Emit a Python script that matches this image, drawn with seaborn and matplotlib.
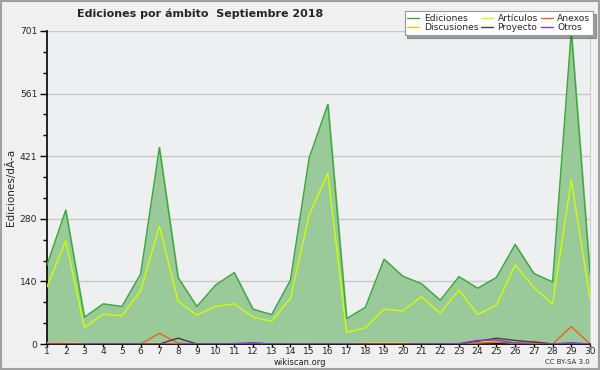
import matplotlib
matplotlib.use("Agg")
import matplotlib.pyplot as plt
import seaborn as sns
import pandas as pd
from matplotlib.patches import Rectangle

days = list(range(1, 31))
ediciones = [177, 300, 60, 90, 84, 157, 440, 149, 84, 132, 160, 78, 66, 143, 417,
             537, 57, 82, 190, 152, 135, 98, 151, 125, 149, 223, 158, 139, 701, 158]
articulos = [128, 231, 37, 67, 63, 119, 264, 96, 65, 84, 90, 60, 51, 102, 289,
             382, 26, 36, 78, 74, 106, 69, 121, 66, 87, 177, 127, 89, 367, 102]
discusiones = [3, 4, 1, 0, 0, 0, 3, 1, 0, 0, 0, 0, 0, 1, 1,
               0, 0, 3, 3, 3, 0, 0, 2, 5, 5, 2, 1, 0, 0, 0]
anexos = [0, 0, 0, 0, 0, 0, 24, 2, 0, 0, 0, 0, 0, 0, 0,
          0, 0, 1, 0, 0, 0, 0, 0, 2, 4, 3, 6, 0, 39, 0]
proyecto = [0, 0, 0, 0, 0, 0, 0, 13, 0, 0, 0, 0, 0, 0, 0,
            0, 0, 0, 0, 0, 0, 0, 0, 6, 13, 8, 4, 0, 0, 0]
otros = [1, 1, 0, 0, 0, 0, 0, 0, 0, 0, 1, 3, 0, 0, 0,
         0, 0, 0, 0, 0, 0, 0, 1, 8, 9, 2, 0, 0, 3, 0]
ytick_vals = [0, 140.2, 280.4, 420.6, 560.8, 701]
ytick_labels = ["0", "140", "280", "421", "561", "701"]

series = {
    "Ediciones": (ediciones, "#3aa83a"),
    "Discusiones": (discusiones, "#ffcc00"),
    "Artículos": (articulos, "#ccff00"),
    "Proyecto": (proyecto, "#404040"),
    "Anexos": (anexos, "#f06020"),
    "Otros": (otros, "#8833ee"),
}

sns.set_style("white")
plt.rcParams['font.family'] = ['DejaVu Sans']

fig = plt.figure(figsize=(6, 3.7), dpi=100, facecolor="#f0f0f0")
ax = fig.add_axes([47/600, 1-344/370, (590-47)/600, (344-31)/370])
ax.set_facecolor("#eeeff1")

df = pd.DataFrame({"day": days, "ed": ediciones})
ax.fill_between(df["day"], 0, df["ed"], color="#9aca9a", zorder=1)

draw_order = ["Ediciones", "Artículos", "Discusiones", "Anexos", "Proyecto", "Otros"]
for name in draw_order:
    vals, col = series[name]
    d = pd.DataFrame({"day": days, "v": vals})
    sns.lineplot(data=d, x="day", y="v", ax=ax, color=col, linewidth=1.0, zorder=3)

ax.set_xlim(1, 30)
ax.set_ylim(0, 701)
ax.set_xticks(days)
ax.set_xticklabels([str(d) for d in days], fontsize=6.6)
ax.set_yticks(ytick_vals)
ax.set_yticklabels(ytick_labels, fontsize=6.6)
minor = []
for i in range(len(ytick_vals) - 1):
    a, b = ytick_vals[i], ytick_vals[i+1]
    minor += [a + (b - a) / 3, a + 2 * (b - a) / 3]
ax.set_yticks(minor, minor=True)
ax.tick_params(axis="y", which="major", length=5, width=1, color="black", pad=2, left=True)
ax.tick_params(axis="y", which="minor", length=3, width=1, color="black", left=True)
ax.tick_params(axis="x", which="major", length=2, width=1, color="black", pad=0.5, bottom=True)
ax.grid(axis="y", which="major", color="#c8c8c8", linewidth=1)
ax.set_axisbelow(True)
ax.spines["top"].set_visible(False)
ax.spines["right"].set_color("#d0d0d0")
ax.spines["left"].set_color("black")
ax.spines["bottom"].set_color("black")
ax.spines["left"].set_linewidth(1.2)
ax.spines["bottom"].set_linewidth(1.2)
ax.set_xlabel("")
ax.set_ylabel("Ediciones/dÃ\u00ada", fontsize=7.5)
ax.yaxis.set_label_coords(-0.058, 0.5)

fig.text(200/600, 1-14/370, "Ediciones por ámbito  Septiembre 2018", fontsize=8,
         fontweight="bold", ha="center", va="center")
fig.text(300/600, 1-362.5/370, "wikiscan.org", fontsize=6, ha="center", va="center", color="#222222")
fig.text(590/600, 1-362.5/370, "CC BY-SA 3.0", fontsize=5, ha="right", va="center", color="#333333")

handles = []
labels = []
for name in ["Ediciones", "Discusiones", "Artículos", "Proyecto", "Anexos", "Otros"]:
    h, = ax.plot([], [], color=series[name][1], linewidth=1)
    handles.append(h)
    labels.append(name)
leg = ax.legend(handles, labels, ncol=3, fontsize=6.6, loc="upper right",
                bbox_to_anchor=(593/600, 1-11/370), bbox_transform=fig.transFigure,
                frameon=True, fancybox=False, shadow=True, handlelength=1.3,
                handletextpad=0.5, columnspacing=0.3, labelspacing=0.05,
                borderpad=0.3, borderaxespad=0)
leg.get_frame().set_facecolor("white")
leg.get_frame().set_edgecolor("#999999")
leg.get_frame().set_linewidth(0.8)
leg.set_zorder(10)

fig.patches.append(Rectangle((0.002, 0.003), 0.996, 0.994, transform=fig.transFigure,
                             fill=False, edgecolor="#a0a0a0", linewidth=1.5))

fig.savefig("out.png", dpi=100, facecolor=fig.get_facecolor())
